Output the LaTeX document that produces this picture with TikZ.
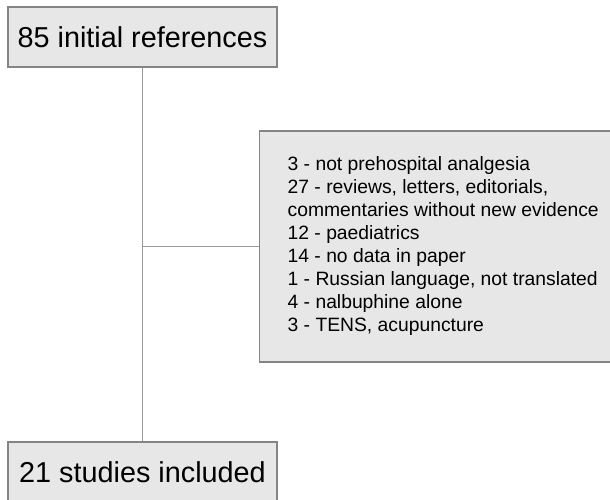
\documentclass[tikz,border=0pt]{standalone}
\usepackage{fontspec}
\setmainfont{Liberation Sans}
\usepackage{tikz}

\definecolor{boxfill}{HTML}{E7E7E7}
\definecolor{boxline}{HTML}{858585}
\definecolor{linkline}{HTML}{9A9A9A}

\tikzset{
  stage/.style={draw=boxline,line width=1.3pt,fill=boxfill,minimum width=269pt,minimum height=60pt,inner sep=0pt,font=\fontsize{28.8}{32}\selectfont},
  excluded/.style={draw=boxline,line width=1.3pt,fill=boxfill,align=left,inner xsep=28pt,minimum height=231pt,font=\fontsize{19.3}{23}\selectfont},
  link/.style={draw=linkline,line width=1pt}
}

\begin{document}
\begin{tikzpicture}[x=1pt,y=-1pt]
\useasboundingbox (0,0) rectangle (610,499);

\node[stage] (start) at (142.5,37) {85 initial references};
\node[stage] (final) at (142.5,472) {21 studies included};
\node[excluded,anchor=west] (excl) at (259,246.5) {3 - not prehospital analgesia\\
27 - reviews, letters, editorials,\\
commentaries without new evidence\\
12 - paediatrics\\
14 - no data in paper\\
1 - Russian language, not translated\\
4 - nalbuphine alone\\
3 - TENS, acupuncture};

\coordinate (split) at (start.south |- excl.west);

\draw[link] (start) -- (final); % main flow
\draw[link] (split) -- (excl); % exclusions
\end{tikzpicture}
\end{document}
